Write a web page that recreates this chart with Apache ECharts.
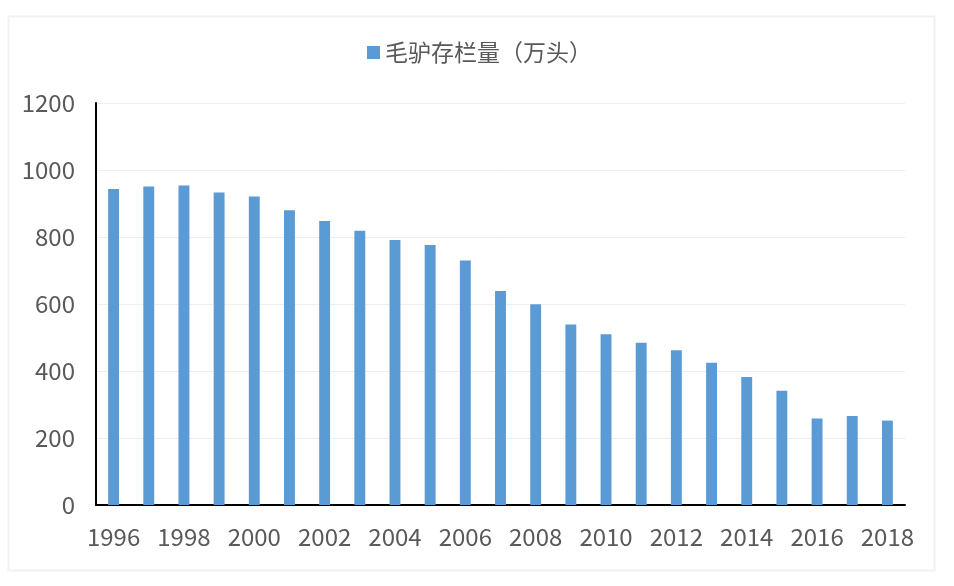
<!DOCTYPE html>
<html><head><meta charset="utf-8">
<script src="https://cdn.jsdelivr.net/npm/echarts@6/dist/echarts.min.js"></script>
<style>html,body{margin:0;padding:0;background:#fff}#c{width:954px;height:586px}</style>
</head><body><div id="c"></div>
<script>
const categories = ['1996','1997','1998','1999','2000','2001','2002','2003','2004','2005','2006','2007','2008','2009','2010','2011','2012','2013','2014','2015','2016','2017','2018'];
const values = [943,951,954,933,921,880,848,819,791,776,730,639,599,539,510,484,462,425,382,341,258,266,252];
const seriesName = '毛驴存栏量（万头）';
const yTicks = {min:0, max:1200, interval:200};
const font = "'Noto Sans CJK SC', 'Open Sans', sans-serif";
const chart = echarts.init(document.getElementById('c'));
chart.setOption({
  backgroundColor:'#fff',
  animation:false,
  graphic:[{type:'rect', left:6, top:14, z:-1, silent:true,
    shape:{width:926, height:554}, style:{fill:'none', stroke:'#f2f2f2', lineWidth:2}}],
  legend:{show:true, top:36, left:362, itemWidth:13, itemHeight:13, itemGap:6,
    icon:'rect', textStyle:{fontSize:23, color:'#595959', fontFamily:font}, data:[seriesName]},
  grid:{left:96, right:49, top:103, bottom:81},
  xAxis:{type:'category', data:categories,
    axisLine:{lineStyle:{color:'#000', width:2}},
    axisTick:{show:false},
    axisLabel:{interval:1, fontSize:24, color:'#595959', margin:20, fontFamily:font}},
  yAxis:{type:'value', min:yTicks.min, max:yTicks.max, interval:yTicks.interval,
    axisLine:{show:true, lineStyle:{color:'#000', width:2}},
    axisTick:{show:false},
    splitLine:{lineStyle:{color:'#eeeeee'}},
    axisLabel:{fontSize:24, color:'#595959', margin:21, fontFamily:font, formatter:function(v){return String(v);}}},
  series:[{name:seriesName, type:'bar', data:values, barWidth:'31%',
    itemStyle:{color:'#5B9BD5'}}]
});
</script></body></html>
